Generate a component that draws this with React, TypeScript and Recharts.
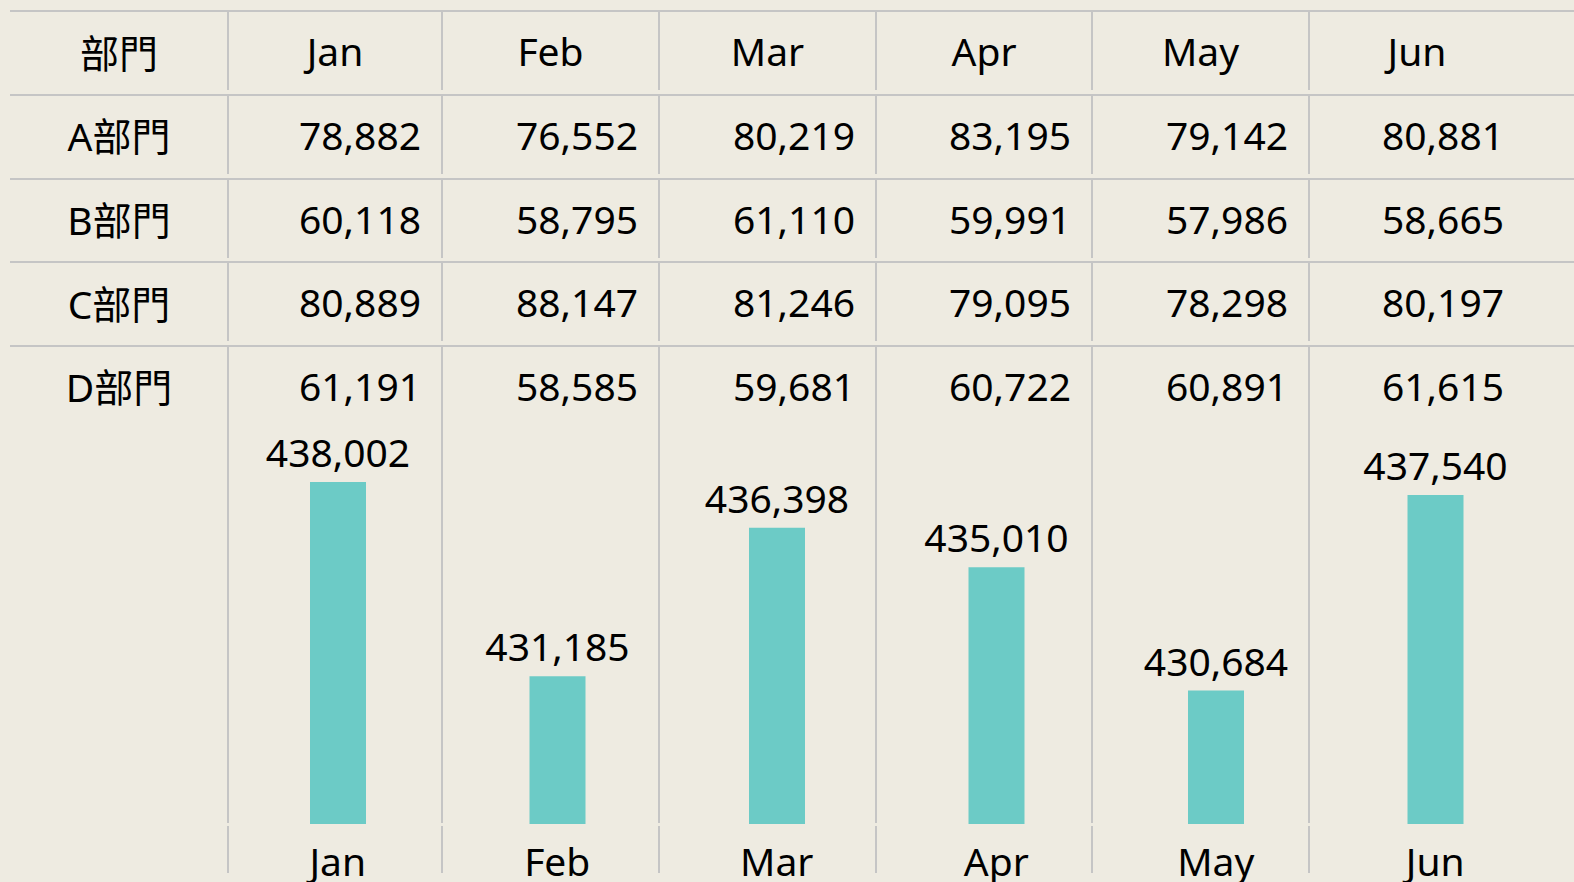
import React from 'react'
import { Bar, BarChart, LabelList, XAxis, YAxis } from 'recharts'

const months = ['Jan', 'Feb', 'Mar', 'Apr', 'May', 'Jun']
const deptNames = ['A部門', 'B部門', 'C部門', 'D部門']
const deptA = [78882, 76552, 80219, 83195, 79142, 80881]
const deptB = [60118, 58795, 61110, 59991, 57986, 58665]
const deptC = [80889, 88147, 81246, 79095, 78298, 80197]
const deptD = [61191, 58585, 59681, 60722, 60891, 61615]
const totals = [438002, 431185, 436398, 435010, 430684, 437540]

const rows = [deptA, deptB, deptC, deptD]
const chartData = months.map((month, i) => ({ month, total: totals[i] }))

// layout
const BG = '#EEEBE1'
const LINE = '#C5C5C5'
const BAR = '#6CCBC6'
const FONT = "'Noto Sans', 'Noto Sans CJK TC', sans-serif"
const colEdges = [228, 442, 659, 876, 1092, 1309, 1525]
const rowTops = [11, 94.5, 178.5, 262, 345.5]
const rowH = 83.5

const fmt = (v: number) => v.toLocaleString('en-US')

function Cell({ left, top, width, align, children }: { left: number; top: number; width: number; align: 'center' | 'right'; children: React.ReactNode }) {
  return (
    <div
      style={{
        position: 'absolute',
        left,
        top: top - 2,
        width,
        height: rowH,
        display: 'flex',
        alignItems: 'center',
        justifyContent: align === 'center' ? 'center' : 'flex-end',
        paddingRight: align === 'right' ? 21 : 0,
        boxSizing: 'border-box',
        fontSize: 39,
        color: '#000',
        whiteSpace: 'nowrap',
      }}
    >
      {children}
    </div>
  )
}

export default function App() {
  const vSegments = [
    [11, 90],
    [95, 174],
    [179, 258],
    [263, 341],
    [346, 823],
    [826, 873],
  ]

  return (
    <div style={{ position: 'absolute', left: 0, top: 0, width: 1574, height: 882, background: BG, overflow: 'hidden', fontFamily: FONT }}>
      {/* horizontal rules */}
      {rowTops.map((y) => (
        <div key={'h' + y} style={{ position: 'absolute', left: 10, top: y - 1, width: 1564, height: 2, background: LINE }} />
      ))}
      {/* column rules */}
      {colEdges.slice(0, 6).map((x) =>
        vSegments.map(([a, b]) => (
          <div key={'v' + x + '-' + a} style={{ position: 'absolute', left: x - 1, top: a, width: 2, height: b - a, background: LINE }} />
        ))
      )}

      {/* header */}
      <Cell left={10} top={rowTops[0]} width={218} align="center">部門</Cell>
      {months.map((m, i) => (
        <Cell key={m} left={colEdges[i]} top={rowTops[0]} width={colEdges[i + 1] - colEdges[i]} align="center">
          {m}
        </Cell>
      ))}

      {/* dept rows */}
      {rows.map((vals, r) => (
        <React.Fragment key={deptNames[r]}>
          <Cell left={10} top={rowTops[r + 1]} width={218} align="center">
            {deptNames[r]}
          </Cell>
          {vals.map((v, i) => (
            <Cell key={i} left={colEdges[i]} top={rowTops[r + 1]} width={colEdges[i + 1] - colEdges[i]} align="right">
              {fmt(v)}
            </Cell>
          ))}
        </React.Fragment>
      ))}

      {/* totals bar pane */}
      <div style={{ position: 'absolute', left: 228, top: 425 }}>
        <BarChart width={1317} height={457} data={chartData} margin={{ top: 0, right: 0, bottom: 0, left: 0 }}>
          <YAxis hide domain={[426000, 440000]} allowDataOverflow />
          <XAxis
            dataKey="month"
            axisLine={false}
            tickLine={false}
            interval={0}
            height={58}
            tickSize={6}
            tickMargin={18}
            tick={{ fill: '#000', fontSize: 39, fontFamily: FONT }}
          />
          <Bar dataKey="total" fill={BAR} barSize={56} isAnimationActive={false}>
            <LabelList dataKey="total" position="top" offset={15} formatter={(v: any) => fmt(Number(v))} style={{ fill: '#000', fontSize: 39, fontFamily: FONT }} />
          </Bar>
        </BarChart>
      </div>
    </div>
  )
}
